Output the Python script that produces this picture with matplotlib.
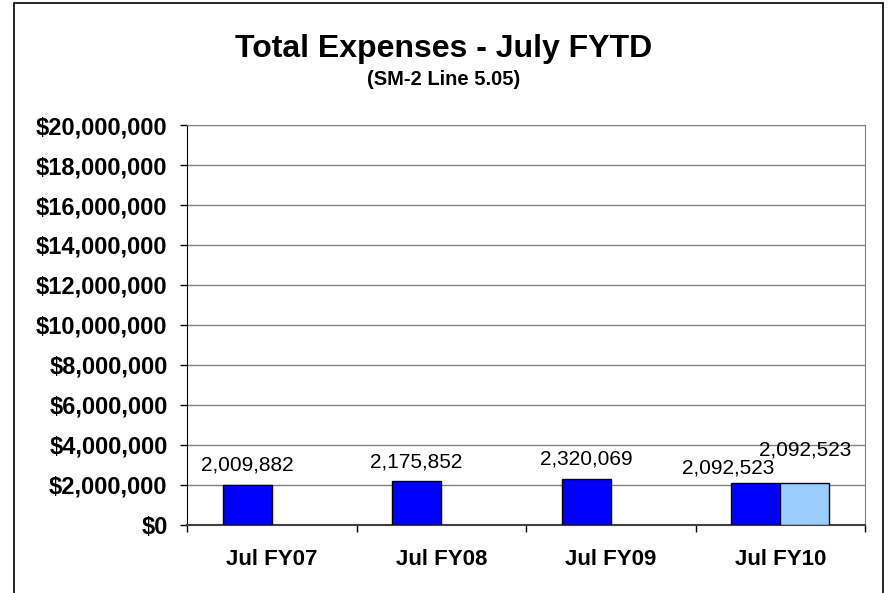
import matplotlib.pyplot as plt
import numpy as np
from matplotlib.patches import Rectangle
from matplotlib.ticker import FuncFormatter

plt.rcParams['font.family'] = ['Liberation Sans', 'DejaVu Sans']

# data
categories = ['Jul FY07', 'Jul FY08', 'Jul FY09', 'Jul FY10']
actual = [2009882, 2175852, 2320069, 2092523]
budget = [np.nan, np.nan, np.nan, 2092523]
yticks = np.arange(0, 20000001, 2000000)

fig = plt.figure(figsize=(8.88, 5.93), dpi=100)
ax = fig.add_axes([0.2106, 0.1147, 0.7635, 0.6745])

# outer chart frame (bottom edge runs off the image)
fig.patches.append(Rectangle((14 / 888, -0.05), 869 / 888, 1.05 - 3 / 593,
                             transform=fig.transFigure, fill=False,
                             edgecolor='black', linewidth=1.2))

x = np.arange(len(categories))
w = 0.29
b1 = ax.bar(x - w / 2, actual, w, color='#0000FF', edgecolor='black', linewidth=1, zorder=3)
b2 = ax.bar(x + w / 2, budget, w, color='#99CCFF', edgecolor='black', linewidth=1, zorder=3)

for xi, v, bv in zip(x, actual, budget):
    # labels get nudged left when the second bar sits beside them
    off = (0, 14) if np.isnan(bv) else (-20, 11)
    ax.annotate(f'{v:,}', (xi - w / 2, v), xytext=off, textcoords='offset points',
                ha='center', va='center', fontsize=15)
for xi, v in zip(x, budget):
    if not np.isnan(v):
        ax.annotate(f'{v:,.0f}', (xi + w / 2, v), xytext=(0, 24), textcoords='offset points',
                    ha='center', va='center', fontsize=15)

ax.set_xlim(-0.5, len(categories) - 0.5)
ax.set_ylim(0, 20000000)
ax.set_yticks(yticks)
ax.yaxis.set_major_formatter(FuncFormatter(lambda v, p: f'${v:,.0f}'))
ax.set_xticks(x)
ax.set_xticklabels(categories)
ax.set_xticks(np.arange(-0.5, len(categories)), minor=True)
ax.tick_params(axis='x', which='major', length=0, pad=17, labelsize=16)
ax.tick_params(axis='x', which='minor', length=5, width=1, color='black')
ax.tick_params(axis='y', length=5, width=1, pad=9, labelsize=17)
for lab in ax.get_xticklabels() + ax.get_yticklabels():
    lab.set_fontweight('bold')

ax.grid(axis='y', color='#808080', linewidth=1, zorder=0)
ax.spines['left'].set_color('black')
ax.spines['bottom'].set_color('#404040')
ax.spines['bottom'].set_linewidth(1.5)
ax.spines['top'].set_color('#808080')
ax.spines['right'].set_color('#808080')

fig.text(0.5, 1 - 57 / 593, 'Total Expenses - July FYTD', ha='center', va='baseline',
         fontsize=23, fontweight='bold')
fig.text(0.5, 1 - 85 / 593, '(SM-2 Line 5.05)', ha='center', va='baseline',
         fontsize=14.5, fontweight='bold')

fig.savefig('out.png', dpi=100)
